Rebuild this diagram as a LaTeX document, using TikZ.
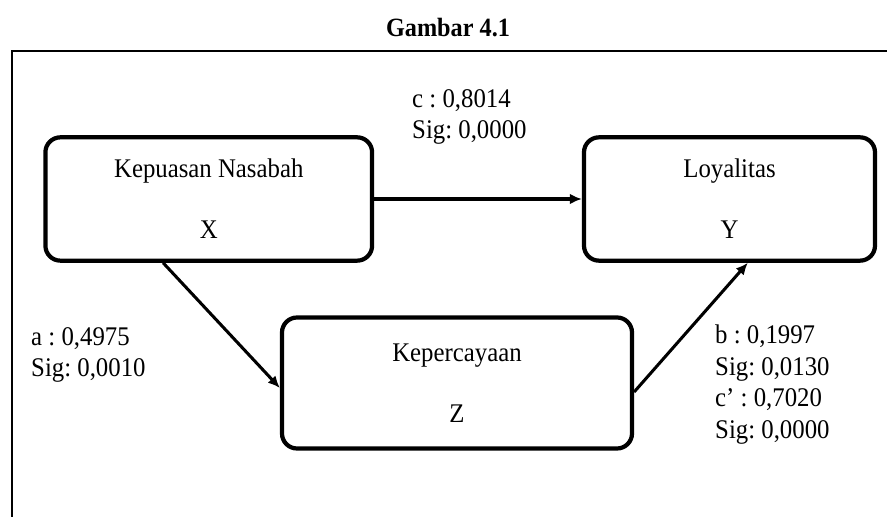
\documentclass[tikz,border=0pt]{standalone}
\usepackage{fontspec}
\setmainfont[FakeStretch=0.92]{Liberation Serif}
\usepackage{tikz}
\usetikzlibrary{arrows.meta}
\frenchspacing

\begin{document}
\begin{tikzpicture}[
    x=0.03cm, y=-0.03cm,
    font=\fontsize{23}{26.9}\selectfont,
    var/.style={draw, line width=3.6pt, rounded corners=0.45cm, align=center, inner sep=0pt,
      font=\fontsize{23}{52}\selectfont},
    coef/.style={anchor=north west, align=left, inner sep=0pt},
    frame/.style={line width=2.4pt},
    line/.style={-{Latex[length=3.6mm,width=3.2mm]}, line width=2.6pt}
]
\useasboundingbox (0,0) rectangle (887,517);
\clip (0,0) rectangle (887,517);
\node[anchor=base, font=\fontsize{22.5}{25}\selectfont\bfseries] (title) at (448,37) {Gambar 4.1};
\draw[frame] (12,51) rectangle (920,560);

\node[var, minimum width=9.8cm, minimum height=3.7cm] (x) at (208.75,199) {Kepuasan Nasabah\\X};
\node[var, minimum width=8.73cm, minimum height=3.7cm] (y) at (729.5,199) {Loyalitas\\Y};
\node[var, minimum width=10.5cm, minimum height=3.93cm] (z) at (457,383) {Kepercayaan\\Z};

\node[coef] (c) at (412,89) {c : 0,8014\\Sig: 0,0000};
\node[coef] (a) at (31,327) {a : 0,4975\\Sig: 0,0010};
\node[coef] (b) at (715,325) {b : 0,1997\\Sig: 0,0130\\c' : 0,7020\\Sig: 0,0000};

\draw[line] (x) -- (y);
\draw[line] ([xshift=-1.37cm]x.south) -- ([yshift=-0.15cm]z.west);
\draw[line] ([yshift=-0.27cm]z.east) -- ([xshift=0.55cm]y.south);
\end{tikzpicture}
\end{document}
